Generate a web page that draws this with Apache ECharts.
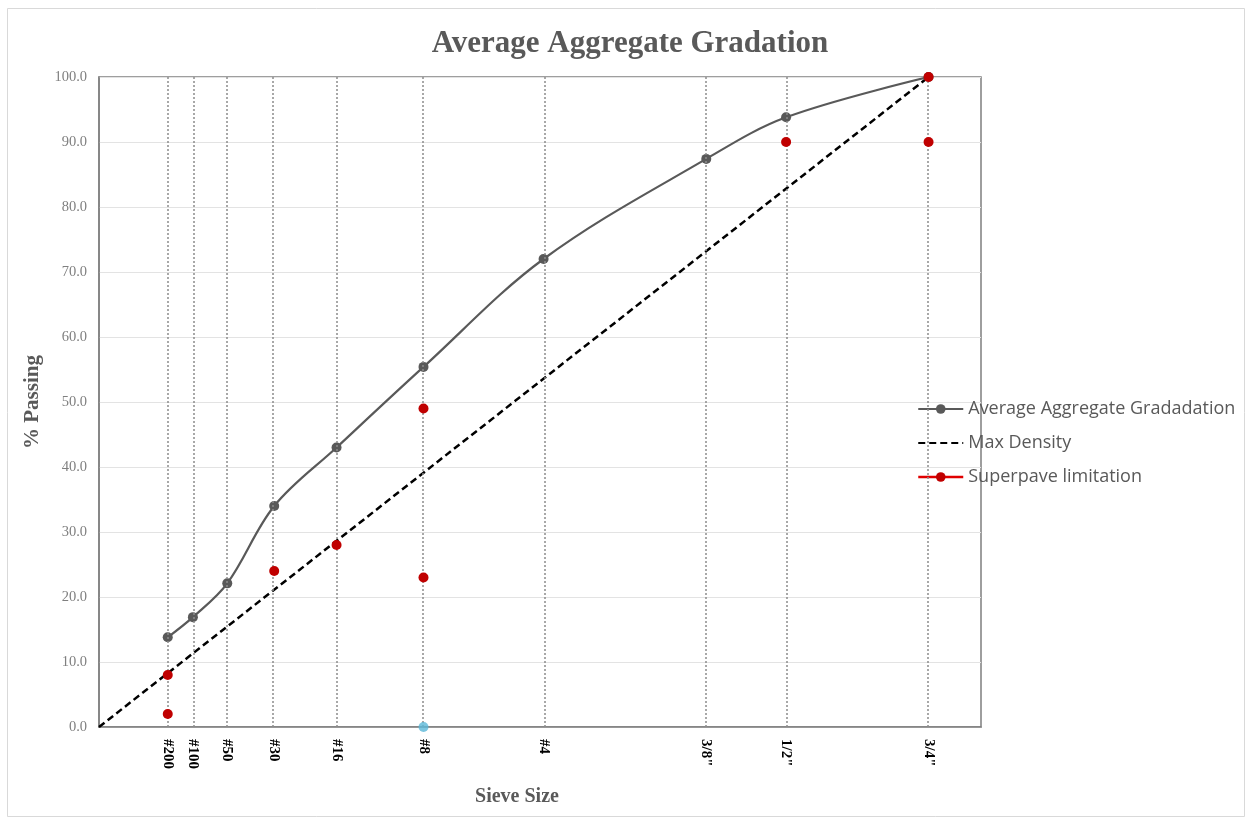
<!DOCTYPE html>
<html><head><meta charset="utf-8">
<script src="https://cdn.jsdelivr.net/npm/echarts@6/dist/echarts.min.js"></script>
<style>html,body{margin:0;padding:0;background:#fff}#c{width:1252px;height:820px}</style>
</head><body><div id="c"></div>
<script>
// Sieve sizes (mm) and their labels; x axis is size^0.45 (0.45 power chart)
const sieveLabels = ['#200', '#100', '#50', '#30', '#16', '#8', '#4', '3/8"', '1/2"', '3/4"'];
const sieveSizesMm = [0.075, 0.15, 0.3, 0.6, 1.18, 2.36, 4.75, 9.5, 12.5, 19];
const avgPassing = [13.8, 16.9, 22.1, 34.0, 43.0, 55.4, 72.0, 87.4, 93.8, 100.0];
const maxDensitySizesMm = [0, 19];
const maxDensityPassing = [0, 100];
const superpaveSizesMm = [0.075, 0.075, 0.6, 1.18, 2.36, 2.36, 12.5, 19, 19];
const superpavePassing = [8, 2, 24, 28, 49, 23, 90, 100, 90];
const markerSizesMm = [2.36];
const markerPassing = [0];
const POWER = 0.45;

const px = s => Math.pow(s, POWER);
const sieveX = sieveSizesMm.map(px);
const pairs = (xs, ys) => xs.map((s, i) => [px(s), ys[i]]);

const serif = '"Liberation Serif", "Times New Roman", serif';
const chart = echarts.init(document.getElementById('c'));
chart.setOption({
  animation: false,
  backgroundColor: '#fff',
  title: {
    text: 'Average Aggregate Gradation',
    left: 625, top: 23, textAlign: 'center',
    textStyle: { fontFamily: serif, fontWeight: 'bold', fontSize: 31, color: '#595959' }
  },
  graphic: [{
    type: 'rect', shape: { x: 7.5, y: 8.5, width: 1237, height: 808 },
    style: { fill: 'none', stroke: '#d9d9d9', lineWidth: 1 }, silent: true, z: -1
  }],
  grid: { left: 99, top: 77, right: 271, bottom: 93, show: true, borderColor: '#7f7f7f', borderWidth: 1.5 },
  legend: {
    orient: 'vertical', left: 912, top: 395, itemWidth: 45, itemHeight: 12, itemGap: 16,
    textStyle: { fontFamily: '"Open Sans", "Noto Sans", sans-serif', fontSize: 18, color: '#595959' },
    data: [
      { name: 'Average Aggregate Gradadation' },
      { name: 'Max Density', itemStyle: { opacity: 0 } },
      { name: 'Superpave limitation', lineStyle: { opacity: 1, width: 2.5, color: '#e00000' } }
    ]
  },
  xAxis: {
    type: 'value', min: 0, max: 4,
    name: 'Sieve Size', nameLocation: 'middle', nameGap: 60,
    nameTextStyle: { fontFamily: serif, fontWeight: 'bold', fontSize: 20, color: '#595959', padding: [0, 46, 0, 0] },
    axisLine: { show: true, lineStyle: { color: '#7f7f7f', width: 1.5 } },
    axisTick: { show: false },
    splitLine: { show: false },
    axisLabel: {
      customValues: sieveX, rotate: -90, margin: 12,
      fontFamily: serif, fontWeight: 'bold', fontSize: 15, color: '#000',
      formatter: v => {
        let best = 0, d = Infinity;
        sieveX.forEach((x, i) => { const e = Math.abs(x - v); if (e < d) { d = e; best = i; } });
        return sieveLabels[best];
      }
    }
  },
  yAxis: {
    type: 'value', min: 0, max: 100, interval: 10,
    name: '% Passing', nameLocation: 'middle', nameGap: 50,
    nameTextStyle: { fontFamily: serif, fontWeight: 'bold', fontSize: 21, color: '#595959' },
    axisLine: { show: true, lineStyle: { color: '#7f7f7f', width: 1.5 } },
    axisTick: { show: false },
    splitLine: { lineStyle: { color: '#e3e3e3', width: 1 } },
    axisLabel: { fontFamily: serif, fontSize: 14.5, color: '#7f7f7f', margin: 12, formatter: v => v.toFixed(1) }
  },
  series: [
    {
      name: 'sieves', type: 'line', data: [], silent: true,
      markLine: {
        silent: true, symbol: 'none', label: { show: false },
        lineStyle: { type: [2, 2], color: '#8c8c8c', width: 1.5 },
        data: sieveX.map(x => ({ xAxis: x }))
      }
    },
    {
      name: 'Max Density', type: 'line', data: pairs(maxDensitySizesMm, maxDensityPassing),
      symbol: 'none', lineStyle: { color: '#000', width: 2.5, type: [7, 4] }, itemStyle: { color: '#000' }, z: 3
    },
    {
      name: 'Average Aggregate Gradadation', type: 'line', data: pairs(sieveSizesMm, avgPassing),
      smooth: 0.35, symbol: 'circle', symbolSize: 10,
      lineStyle: { color: '#595959', width: 2.2 }, itemStyle: { color: '#595959' }, z: 4
    },
    {
      name: 'Superpave limitation', type: 'line', data: pairs(superpaveSizesMm, superpavePassing),
      symbol: 'circle', symbolSize: 10, showAllSymbol: true,
      lineStyle: { opacity: 0, color: '#e00000' }, itemStyle: { color: '#c00000' }, z: 5
    },
    {
      name: 'marker', type: 'scatter', data: pairs(markerSizesMm, markerPassing),
      symbolSize: 10, itemStyle: { color: '#5bb8d8' }, z: 5
    }
  ]
});
</script></body></html>
